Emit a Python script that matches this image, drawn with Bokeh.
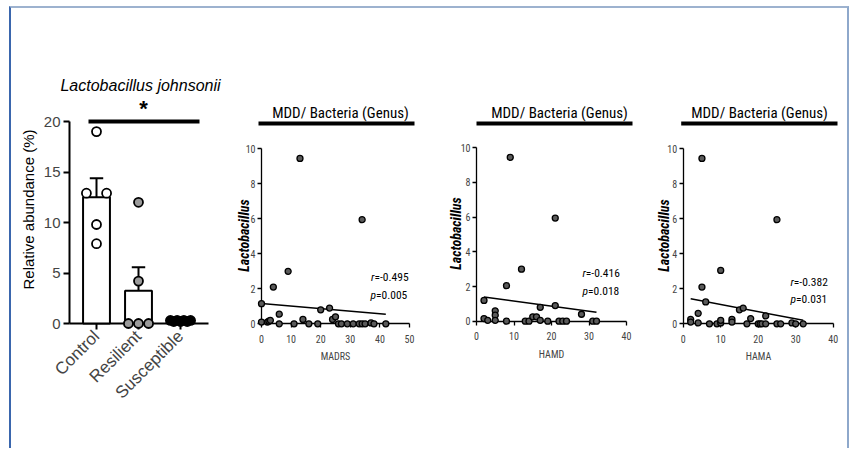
import numpy as np
from bokeh.plotting import figure
from bokeh.models import LinearAxis, FixedTicker, Range1d, Row
from bokeh.embed import file_html
from bokeh.resources import INLINE
from bokeh.core.properties import value

# ---------------- data ----------------
groups = ["Control", "Resilient", "Susceptible"]
control_vals = [19.0, 12.9, 12.9, 9.8, 7.9]
resilient_vals = [12.0, 4.2, 0.0, 0.0, 0.0]
susceptible_vals = [0.3, 0.2, 0.3, 0.2, 0.3, 0.2, 0.3]
abund_ticks = [0, 5, 10, 15, 20]
bar_title = "Lactobacillus johnsonii"
bar_ylabel = "Relative abundance (%)"
sig_label = "*"

madrs_x = [0, 0, 2, 2.5, 3, 4, 6, 6, 9, 11, 13, 14, 16, 19, 20, 23, 24, 25, 26, 27, 29, 31, 33, 34, 35, 37, 38, 42, 34]
madrs_y = [1.15, 0.1, 0.1, 0.15, 0.2, 2.1, 0.55, 0.0, 3.0, 0.0, 9.45, 0.25, 0.0, 0.0, 0.8, 0.9, 0.25, 0.4, 0.0, 0.0,
           0.0, 0.0, 0.0, 0.0, 0.0, 0.05, 0.0, 0.0, 5.95]
hamd_x = [2, 2, 3, 5, 5, 5, 8, 8, 9, 12, 13, 14, 15, 16, 17, 17, 19, 21, 21, 22, 23, 24, 28, 31, 32]
hamd_y = [1.2, 0.15, 0.05, 0.6, 0.35, 0.05, 2.05, 0.0, 9.45, 3.0, 0.0, 0.0, 0.25, 0.25, 0.05, 0.8, 0.0, 0.9, 5.95, 0.0,
          0.0, 0.0, 0.4, 0.0, 0.0]
hama_x = [2, 2, 4, 4, 5, 6, 7, 9, 10, 10, 10, 13, 13, 15, 16, 17, 18, 20, 20.5, 21, 22, 22, 25, 26, 29, 30, 32, 5, 25]
hama_y = [0.25, 0.1, 0.6, 0.05, 2.1, 1.25, 0.0, 0.0, 0.05, 3.05, 0.2, 0.25, 0.1, 0.8, 0.9, 0.0, 0.3, 0.0, 0.0, 0.0,
          0.45, 0.0, 0.0, 0.0, 0.05, 0.0, 0.0, 9.45, 5.95]
scatter_title = "MDD/ Bacteria (Genus)"
scatter_ylabel = "Lactobacillus"
scatter_yticks = [0, 2, 4, 6, 8, 10]
madrs_ticks = [0, 10, 20, 30, 40, 50]
ham_ticks = [0, 10, 20, 30, 40]
madrs_stats = ("-0.495", "0.005")
hamd_stats = ("-0.416", "0.018")
hama_stats = ("-0.382", "0.031")

# ---------------- layout helpers ----------------
FONT = "Liberation Sans"
NARROW = "Liberation Sans Narrow, Arial Narrow, Roboto Condensed, Noto Sans Condensed, Roboto"
TOP, H = 8, 440


def lin(p_a, p_b, v_a, v_b):
    s = (p_b - p_a) / (v_b - v_a)
    return lambda px: v_a + (px - p_a) / s


def base_fig(left, right, xcal, ycal):
    fx = lin(*xcal)
    fy = lin(*ycal)
    p = figure(width=right - left, height=H,
               x_range=Range1d(fx(left), fx(right)),
               y_range=Range1d(fy(TOP + H), fy(TOP)),
               x_axis_type=None, y_axis_type=None, title=None,
               output_backend="svg", toolbar_location=None,
               min_border=0, min_border_left=0, min_border_right=0,
               min_border_top=0, min_border_bottom=0)
    p.outline_line_color = None
    p.background_fill_color = "white"
    p.border_fill_color = "white"
    return p, fx, fy


def spread(vals, half=0.24, tol=0.5):
    vals = np.asarray(vals, float)
    off = np.zeros(len(vals))
    order = np.argsort(vals, kind="stable")
    clusters, cur = [], [order[0]]
    for i in order[1:]:
        if vals[i] - vals[cur[0]] < tol:
            cur.append(i)
        else:
            clusters.append(cur)
            cur = [i]
    clusters.append(cur)
    for c in clusters:
        if len(c) > 1:
            off[sorted(c)] = np.linspace(-half, half, len(c))
    return off


# ---------------- panel 1: bar chart ----------------
p1, fx1, fy1 = base_fig(11, 230, (96, 180, 0, 2), (323, 121, 0, 20))
gx = np.arange(len(groups), dtype=float)
group_vals = [control_vals, resilient_vals, susceptible_vals]
means = np.array([np.mean(v) for v in group_vals])
sems = np.array([np.std(v, ddof=1) / np.sqrt(len(v)) for v in group_vals])
upper = means + sems

p1.vbar(x=gx, top=means, bottom=0, width=0.64, fill_color="white",
        line_color="black", line_width=2)
p1.segment(x0=gx, y0=means, x1=gx, y1=upper, line_color="black", line_width=2)
p1.segment(x0=gx - 0.16, y0=upper, x1=gx + 0.16, y1=upper, line_color="black", line_width=2)

fills = ["white", "#9b9b9b", "black"]
for i, (vals, fc) in enumerate(zip(group_vals, fills)):
    px = gx[i] + spread(vals)
    p1.scatter(x=px, y=vals, size=9, fill_color=fc, line_color="black", line_width=1.8)

# significance bar + star + title + y label
p1.line(x=[fx1(88), fx1(199)], y=[abund_ticks[-1], abund_ticks[-1]], line_color="black", line_width=4)
p1.text(x=[fx1(143)], y=[fy1(107.5)], text=[sig_label], text_font=value(FONT),
        text_font_size="22px", text_font_style="bold", text_align="center", text_baseline="alphabetic")
p1.text(x=[fx1(140)], y=[fy1(85)], text=[bar_title], text_font=value(FONT),
        text_font_size="16px", text_font_style="italic", text_align="center", text_baseline="middle")
p1.text(x=[fx1(28)], y=[fy1(209)], text=[bar_ylabel], text_font=value(FONT), angle=np.pi / 2,
        text_font_size="15px", text_align="center", text_baseline="middle")

yax1 = LinearAxis(fixed_location=fx1(69), bounds=(0, abund_ticks[-1]),
                  ticker=FixedTicker(ticks=abund_ticks),
                  major_label_text_font=FONT, major_label_text_font_size="15px",
                  major_label_standoff=3, axis_line_width=2, axis_line_color="black",
                  major_tick_line_width=2, major_tick_line_color="black",
                  major_tick_out=6, major_tick_in=0, minor_tick_out=0, minor_tick_in=0,
                  level="underlay")
p1.add_layout(yax1, "left")
xax1 = LinearAxis(fixed_location=0, bounds=(fx1(69), fx1(208)),
                  ticker=FixedTicker(ticks=list(gx)),
                  major_label_overrides={i: g for i, g in enumerate(groups)},
                  major_label_orientation=np.pi / 4,
                  major_label_text_font=FONT, major_label_text_font_size="17px",
                  major_label_standoff=4, axis_line_width=2, major_tick_line_width=2,
                  major_tick_out=6, major_tick_in=0, minor_tick_out=0, minor_tick_in=0,
                  level="underlay")
p1.add_layout(xax1, "below")


# ---------------- scatter panels ----------------
def scatter_panel(left, right, xcal, ycal, xs, ys, xticks, xlabel, stats,
                  title_px, bar_px, r_px, p_px, ylab_px):
    p, fx, fy = base_fig(left, right, xcal, ycal)
    xs = np.asarray(xs, float)
    ys = np.asarray(ys, float)
    slope, icpt = np.polyfit(xs, ys, 1)
    lx = np.array([xs.min(), xs.max()])
    p.line(x=lx, y=icpt + slope * lx, line_color="black", line_width=1.5)
    p.scatter(x=xs, y=ys, size=6, fill_color="#5a5a5a", line_color="black", line_width=1.3)

    # title and bar
    p.text(x=[fx(title_px[0])], y=[fy(title_px[1])], text=[scatter_title], text_font=value(NARROW),
           text_font_size="15px", text_align="center", text_baseline="middle")
    p.line(x=[fx(bar_px[0]), fx(bar_px[1])], y=[fy(bar_px[2])] * 2, line_color="black", line_width=4)

    # y label
    p.text(x=[fx(ylab_px[0])], y=[fy(ylab_px[1])], text=[scatter_ylabel], text_font=value(NARROW),
           angle=np.pi / 2, text_font_size="14px", text_font_style="bold italic",
           text_align="center", text_baseline="middle")

    # stats
    for (letter, txt), (bx, cy) in zip((("r", "=" + stats[0]), ("p", "=" + stats[1])), (r_px, p_px)):
        p.text(x=[fx(bx)], y=[fy(cy)], text=[letter], text_font=value(NARROW), text_font_size="11.5px",
               text_font_style="italic", text_align="right", text_baseline="middle")
        p.text(x=[fx(bx)], y=[fy(cy)], text=[txt], text_font=value(NARROW), text_font_size="11.5px",
               text_align="left", text_baseline="middle")

    yax = LinearAxis(fixed_location=0, bounds=(0, scatter_yticks[-1]),
                     ticker=FixedTicker(ticks=scatter_yticks),
                     major_label_text_font=NARROW, major_label_text_font_size="10px",
                     major_label_standoff=2, axis_line_width=1.3, major_tick_line_width=1.3,
                     major_tick_out=4, major_tick_in=0, minor_tick_out=0, minor_tick_in=0,
                     level="underlay")
    p.add_layout(yax, "left")
    xax = LinearAxis(fixed_location=0, bounds=(0, xticks[-1]),
                     ticker=FixedTicker(ticks=xticks),
                     axis_label=xlabel, axis_label_standoff=5,
                     axis_label_text_font=NARROW, axis_label_text_font_size="10px",
                     axis_label_text_font_style="normal",
                     major_label_text_font=NARROW, major_label_text_font_size="10px",
                     major_label_standoff=7, axis_line_width=1.3, major_tick_line_width=1.3,
                     major_tick_out=4, major_tick_in=0, minor_tick_out=0, minor_tick_in=0,
                     level="underlay")
    p.add_layout(xax, "below")
    return p


p2 = scatter_panel(230, 440, (261, 409, 0, 50), (323.3, 148.3, 0, 10), madrs_x, madrs_y, madrs_ticks,
                   "MADRS", madrs_stats, (340, 112), (258, 414, 123), (374, 276.7), (375.5, 294), (243, 235))
p3 = scatter_panel(440, 640, (476, 626, 0, 40), (320.7, 147.3, 0, 10), hamd_x, hamd_y, ham_ticks,
                   "HAMD", hamd_stats, (559, 112), (476, 632, 123), (585.3, 272.7), (587.5, 290), (455, 233))
p4 = scatter_panel(640, 847, (682.7, 832.7, 0, 40), (323.3, 148.3, 0, 10), hama_x, hama_y, ham_ticks,
                   "HAMA", hama_stats, (759, 112), (680.7, 837, 123), (793.3, 281), (795.5, 298), (663, 235))

layout = Row(children=[p1, p2, p3, p4], spacing=0,
             styles={"margin-left": "9px", "margin-top": "6px",
                     "border-top": "2px solid #9db2cf", "border-left": "2px solid #3a66ad",
                     "border-right": "2px solid #8ea8cb", "background-color": "white"})

open("out.html", "w").write(file_html(layout, INLINE))
